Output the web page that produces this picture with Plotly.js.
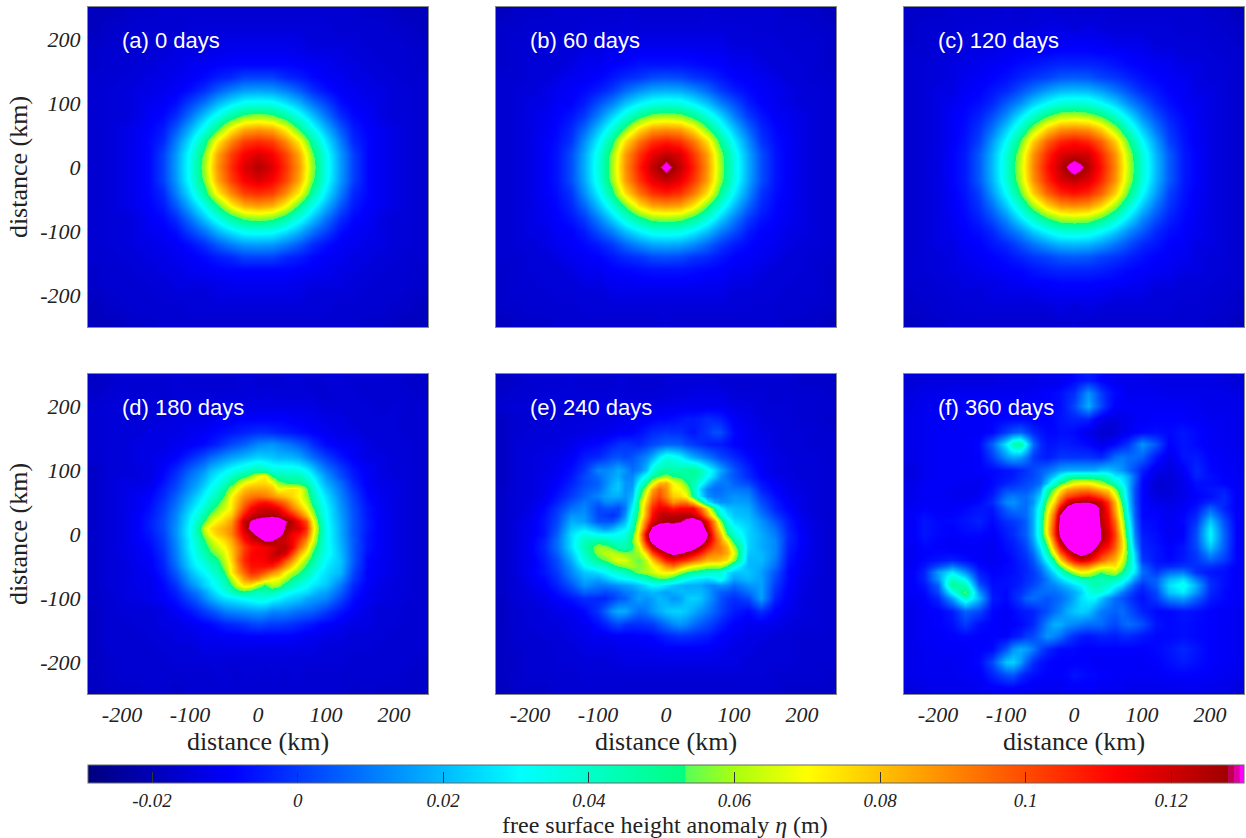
<!DOCTYPE html>
<html><head><meta charset="utf-8">
<script src="https://cdn.plot.ly/plotly-3.0.1.min.js"></script>
<style>html,body{margin:0;padding:0;background:#fff}#chart{width:1246px;height:838px}</style>
</head><body><div id="chart"></div>
<script>
// Grid positions in km. Rows below run from top to bottom; values in millimetres.
const gridCoarse = [-240,-220,-200,-180,-160,-140,-120,-100,-80,-60,-40,-20,0,20,40,60,80,100,120,140,160,180,200,220,240];
const gridFine = [-240,-220,-200,-180,-160,-140,-120,-100,-90,-80,-70,-60,-50,-40,-30,-20,-10,0,10,20,30,40,50,60,70,80,90,100,120,140,160,180,200,220,240];
const panelLabels = ["(a) 0 days","(b) 60 days","(c) 120 days","(d) 180 days","(e) 240 days","(f) 360 days"];
const axisTicks = [-200,-100,0,100,200];
const axisTickText = ["-200","-100","0","100","200"];
const barTicks = [-0.02,0,0.02,0.04,0.06,0.08,0.1,0.12];
const barTickText = ["-0.02","0","0.02","0.04","0.06","0.08","0.1","0.12"];

const panelA = [
[-19,-19,-18,-17,-17,-16,-16,-16,-16,-16,-16,-16,-16,-16,-16,-16,-16,-16,-16,-16,-17,-17,-18,-19,-19],
[-19,-17,-17,-16,-16,-16,-16,-15,-15,-15,-15,-15,-15,-15,-15,-15,-15,-15,-16,-16,-16,-16,-17,-17,-19],
[-18,-17,-16,-16,-16,-15,-15,-15,-15,-13,-13,-13,-13,-13,-13,-13,-15,-15,-15,-15,-16,-16,-16,-17,-18],
[-17,-16,-16,-16,-15,-15,-13,-13,-13,-12,-11,-11,-11,-11,-11,-12,-13,-13,-13,-15,-15,-16,-16,-16,-17],
[-17,-16,-16,-15,-15,-13,-13,-11,-10,-9,-8,-8,-8,-8,-8,-9,-10,-11,-13,-13,-15,-15,-16,-16,-17],
[-16,-16,-15,-15,-13,-13,-11,-10,-8,-5,-3,1,1,1,-3,-5,-8,-10,-11,-13,-13,-15,-15,-16,-16],
[-16,-15,-15,-13,-13,-11,-10,-7,-2,5,11,15,16,15,11,5,-2,-7,-10,-11,-13,-13,-15,-15,-16],
[-16,-15,-15,-13,-11,-10,-7,1,9,19,27,33,34,33,27,19,9,1,-7,-10,-11,-13,-15,-15,-16],
[-16,-15,-15,-13,-10,-8,-2,9,22,34,47,56,59,56,47,34,22,9,-2,-8,-10,-13,-15,-15,-16],
[-16,-15,-13,-11,-9,-5,5,19,34,52,72,84,87,84,72,52,34,19,5,-5,-9,-11,-13,-15,-16],
[-16,-15,-13,-11,-8,-3,11,27,47,72,90,102,105,102,90,72,47,27,11,-3,-8,-11,-13,-15,-16],
[-16,-15,-13,-11,-8,1,15,33,56,84,102,113,118,113,102,84,56,33,15,1,-8,-11,-13,-15,-16],
[-16,-15,-13,-11,-8,1,16,34,59,87,105,118,125,118,105,87,59,34,16,1,-8,-11,-13,-15,-16],
[-16,-15,-13,-11,-8,1,15,33,56,84,102,113,118,113,102,84,56,33,15,1,-8,-11,-13,-15,-16],
[-16,-15,-13,-11,-8,-3,11,27,47,72,90,102,105,102,90,72,47,27,11,-3,-8,-11,-13,-15,-16],
[-16,-15,-13,-11,-9,-5,5,19,34,52,72,84,87,84,72,52,34,19,5,-5,-9,-11,-13,-15,-16],
[-16,-15,-15,-13,-10,-8,-2,9,22,34,47,56,59,56,47,34,22,9,-2,-8,-10,-13,-15,-15,-16],
[-16,-15,-15,-13,-11,-10,-7,1,9,19,27,33,34,33,27,19,9,1,-7,-10,-11,-13,-15,-15,-16],
[-16,-15,-15,-13,-13,-11,-10,-7,-2,5,11,15,16,15,11,5,-2,-7,-10,-11,-13,-13,-15,-15,-16],
[-16,-16,-15,-15,-13,-13,-11,-10,-8,-5,-3,1,1,1,-3,-5,-8,-10,-11,-13,-13,-15,-15,-16,-16],
[-17,-16,-16,-15,-15,-13,-13,-11,-10,-9,-8,-8,-8,-8,-8,-9,-10,-11,-13,-13,-15,-15,-16,-16,-17],
[-17,-16,-16,-16,-15,-15,-13,-13,-13,-12,-11,-11,-11,-11,-11,-12,-13,-13,-13,-15,-15,-16,-16,-16,-17],
[-18,-17,-16,-16,-16,-15,-15,-15,-15,-13,-13,-13,-13,-13,-13,-13,-15,-15,-15,-15,-16,-16,-16,-17,-18],
[-19,-17,-17,-16,-16,-16,-16,-15,-15,-15,-15,-15,-15,-15,-15,-15,-15,-15,-16,-16,-16,-16,-17,-17,-19],
[-19,-19,-18,-17,-17,-16,-16,-16,-16,-16,-16,-16,-16,-16,-16,-16,-16,-16,-16,-16,-17,-17,-18,-19,-19]
];
const panelB = [
[-19,-17,-17,-17,-16,-16,-16,-16,-16,-15,-16,-16,-16,-16,-16,-15,-16,-16,-16,-16,-16,-17,-17,-17,-19],
[-17,-17,-16,-16,-16,-16,-15,-15,-15,-15,-15,-15,-15,-15,-15,-15,-15,-15,-15,-16,-16,-16,-16,-17,-17],
[-17,-16,-16,-16,-15,-15,-15,-15,-13,-13,-13,-13,-13,-13,-13,-13,-13,-15,-15,-15,-15,-16,-16,-16,-17],
[-17,-16,-16,-15,-15,-15,-13,-13,-11,-11,-10,-10,-10,-10,-10,-11,-11,-13,-13,-15,-15,-15,-16,-16,-17],
[-17,-16,-15,-15,-15,-13,-11,-11,-9,-8,-6,-6,-6,-6,-7,-8,-9,-11,-11,-13,-15,-15,-15,-16,-17],
[-16,-16,-15,-15,-13,-11,-10,-9,-6,-3,-1,2,3,2,-1,-3,-6,-9,-10,-11,-13,-15,-15,-16,-16],
[-16,-15,-15,-13,-11,-10,-8,-5,0,7,13,17,18,17,13,7,0,-5,-8,-10,-11,-13,-15,-15,-16],
[-16,-15,-13,-13,-10,-9,-5,3,11,21,29,34,36,35,29,21,11,3,-5,-9,-11,-13,-15,-15,-16],
[-16,-15,-13,-11,-9,-6,0,11,24,37,50,58,60,58,50,37,25,11,0,-6,-10,-11,-13,-15,-16],
[-16,-15,-13,-11,-8,-3,7,21,37,56,75,86,88,86,75,56,37,21,7,-3,-8,-11,-13,-15,-16],
[-16,-15,-13,-10,-7,-1,13,29,50,75,93,104,108,104,93,75,50,29,13,-1,-7,-10,-13,-15,-16],
[-16,-15,-13,-10,-6,3,17,35,58,86,104,116,122,118,104,86,58,35,17,3,-6,-10,-13,-15,-16],
[-16,-15,-13,-10,-6,3,18,36,60,88,108,122,133,122,108,88,60,36,18,3,-6,-10,-13,-15,-16],
[-16,-15,-13,-10,-6,3,17,35,58,86,104,116,122,116,104,86,58,35,17,3,-6,-10,-13,-15,-16],
[-16,-15,-13,-10,-7,-1,13,29,50,75,93,104,108,104,93,75,50,29,13,-1,-7,-10,-13,-15,-16],
[-16,-15,-13,-11,-8,-3,7,21,37,56,75,86,88,86,75,56,37,21,7,-3,-8,-11,-13,-15,-16],
[-16,-15,-13,-11,-9,-6,0,11,24,37,50,58,60,58,50,37,24,11,0,-6,-9,-11,-13,-15,-16],
[-16,-15,-13,-13,-10,-9,-5,3,11,21,29,35,36,35,29,21,11,3,-5,-9,-10,-13,-13,-15,-16],
[-16,-15,-15,-13,-11,-10,-8,-5,0,7,13,17,18,17,13,7,0,-5,-8,-10,-11,-13,-15,-15,-16],
[-16,-16,-15,-15,-13,-11,-10,-9,-6,-3,-1,2,3,2,-1,-3,-6,-9,-10,-11,-13,-15,-15,-16,-16],
[-17,-16,-15,-15,-15,-13,-11,-11,-9,-8,-7,-6,-6,-6,-7,-8,-9,-11,-11,-13,-15,-15,-15,-16,-17],
[-17,-16,-16,-15,-15,-15,-13,-13,-11,-11,-10,-10,-10,-10,-10,-11,-11,-13,-13,-15,-15,-15,-16,-16,-17],
[-17,-16,-16,-16,-15,-15,-15,-15,-13,-13,-13,-13,-13,-13,-13,-13,-13,-15,-15,-15,-15,-16,-16,-16,-17],
[-17,-17,-16,-16,-16,-16,-15,-15,-15,-15,-15,-15,-15,-15,-15,-15,-15,-15,-15,-16,-16,-16,-16,-17,-17],
[-19,-17,-17,-17,-16,-16,-16,-16,-16,-16,-16,-16,-15,-16,-16,-16,-16,-16,-16,-16,-16,-17,-17,-17,-19]
];
const panelC = [
[-17,-17,-17,-16,-16,-16,-16,-15,-16,-15,-15,-16,-15,-16,-15,-16,-16,-16,-16,-16,-16,-16,-17,-17,-19],
[-17,-16,-16,-16,-15,-15,-15,-15,-15,-15,-13,-13,-15,-13,-15,-15,-15,-15,-15,-15,-16,-16,-16,-17,-17],
[-17,-16,-15,-15,-15,-15,-13,-13,-13,-11,-11,-11,-11,-11,-11,-13,-13,-13,-15,-15,-15,-15,-16,-16,-17],
[-16,-16,-15,-15,-13,-13,-13,-11,-10,-9,-9,-8,-8,-8,-9,-9,-10,-11,-13,-13,-15,-15,-15,-16,-16],
[-16,-15,-15,-13,-13,-11,-10,-9,-7,-6,-4,-3,-3,-3,-4,-6,-8,-9,-10,-11,-13,-13,-15,-15,-16],
[-16,-15,-15,-13,-11,-10,-9,-7,-4,-1,1,4,5,4,1,-1,-4,-7,-9,-10,-11,-13,-15,-15,-16],
[-16,-15,-13,-13,-10,-9,-6,-3,3,9,15,19,20,19,15,9,3,-3,-6,-9,-10,-13,-13,-15,-16],
[-16,-15,-13,-11,-9,-7,-3,5,13,23,31,37,38,37,31,23,13,5,-3,-7,-10,-11,-13,-15,-16],
[-16,-15,-13,-10,-8,-4,3,13,27,40,53,61,63,60,53,40,27,13,3,-4,-8,-11,-13,-15,-16],
[-16,-15,-13,-10,-7,-1,9,23,40,60,78,88,90,88,78,60,40,23,9,-1,-7,-10,-13,-15,-16],
[-16,-15,-13,-10,-6,1,15,31,53,78,96,106,110,106,96,78,53,31,15,1,-6,-10,-13,-15,-16],
[-16,-15,-13,-9,-5,5,19,37,61,88,106,118,120,120,106,88,61,37,19,5,-5,-9,-13,-15,-16],
[-16,-15,-13,-9,-5,5,20,38,63,90,110,122,137,124,110,90,63,38,20,5,-5,-9,-13,-15,-16],
[-16,-15,-13,-9,-5,5,19,37,61,88,106,118,122,118,106,88,61,37,19,5,-5,-9,-13,-15,-16],
[-16,-15,-13,-10,-6,1,15,31,53,78,96,106,110,106,96,78,53,31,15,1,-6,-10,-13,-15,-16],
[-16,-15,-13,-10,-7,-1,9,23,40,60,78,88,90,88,78,60,40,23,9,-1,-7,-10,-13,-15,-16],
[-16,-15,-13,-11,-8,-4,3,13,27,40,53,61,63,61,53,40,27,13,3,-4,-8,-11,-13,-15,-16],
[-16,-15,-13,-11,-9,-7,-3,5,13,23,31,37,38,37,31,23,13,5,-3,-7,-9,-11,-13,-15,-16],
[-16,-15,-13,-13,-10,-9,-6,-3,3,9,15,19,20,19,15,9,3,-3,-6,-9,-10,-13,-13,-15,-16],
[-16,-15,-15,-13,-11,-10,-9,-7,-4,-1,1,4,5,4,1,-1,-4,-7,-9,-10,-11,-13,-15,-15,-16],
[-16,-15,-15,-13,-13,-11,-10,-9,-8,-6,-4,-3,-3,-3,-4,-6,-8,-9,-10,-11,-13,-13,-15,-15,-16],
[-16,-16,-15,-15,-13,-13,-13,-11,-10,-9,-9,-8,-8,-8,-9,-9,-10,-11,-13,-13,-15,-15,-15,-16,-16],
[-17,-16,-16,-15,-15,-15,-13,-13,-13,-13,-11,-11,-11,-11,-11,-13,-13,-13,-15,-15,-15,-15,-16,-16,-17],
[-17,-17,-16,-16,-15,-15,-15,-15,-15,-15,-15,-13,-15,-13,-15,-15,-15,-15,-15,-15,-16,-16,-16,-17,-17],
[-19,-17,-17,-16,-16,-16,-16,-16,-16,-16,-16,-16,-15,-16,-16,-16,-16,-16,-16,-16,-16,-16,-17,-17,-19]
];
const panelD = [
[-18,-17,-16,-16,-16,-16,-15,-16,-16,-16,-16,-16,-16,-16,-15,-15,-15,-16,-16,-16,-16,-15,-15,-15,-16,-16,-16,-15,-15,-16,-16,-16,-16,-17,-17],
[-17,-16,-15,-16,-15,-16,-15,-15,-15,-15,-15,-15,-15,-15,-15,-15,-14,-15,-14,-14,-15,-15,-15,-15,-15,-15,-16,-16,-15,-15,-16,-16,-16,-16,-17],
[-16,-15,-15,-15,-15,-15,-15,-15,-15,-14,-14,-13,-13,-13,-13,-13,-13,-13,-13,-13,-13,-13,-13,-13,-13,-13,-14,-15,-15,-15,-15,-16,-15,-16,-16],
[-16,-15,-15,-15,-15,-14,-13,-13,-13,-13,-12,-11,-10,-10,-9,-9,-9,-9,-9,-9,-9,-9,-10,-10,-11,-11,-12,-13,-13,-15,-15,-15,-15,-16,-16],
[-16,-15,-15,-15,-13,-13,-13,-11,-11,-10,-9,-8,-7,-6,-5,-4,-3,-2,-2,-3,-4,-5,-6,-7,-8,-9,-10,-11,-13,-13,-15,-15,-15,-16,-16],
[-16,-15,-15,-13,-13,-13,-11,-10,-9,-8,-6,-4,-1,2,4,6,9,12,13,14,12,10,8,5,2,-2,-5,-8,-10,-11,-13,-15,-15,-15,-16],
[-16,-15,-15,-13,-13,-11,-9,-3,0,3,7,10,13,16,18,20,22,24,23,22,20,20,19,17,12,8,4,0,-6,-10,-13,-13,-15,-15,-16],
[-18,-15,-15,-14,-13,-9,-3,6,10,14,20,24,28,32,36,38,42,44,42,36,36,36,36,34,30,24,16,10,1,-6,-10,-13,-15,-15,-16],
[-17,-15,-14,-14,-13,-8,-1,9,13,18,24,29,34,40,46,50,58,68,72,52,46,44,44,44,38,30,22,14,3,-5,-10,-13,-14,-15,-16],
[-17,-15,-13,-13,-12,-6,1,12,16,22,28,34,40,50,60,70,74,76,76,72,58,54,50,50,46,36,26,18,8,-3,-10,-12,-13,-15,-16],
[-17,-15,-13,-12,-11,-4,3,14,19,26,32,38,48,60,72,80,84,84,84,80,70,72,74,72,56,42,30,22,10,-1,-9,-12,-13,-15,-16],
[-17,-15,-13,-11,-9,-3,6,18,24,30,37,44,54,70,80,88,92,94,92,88,84,80,76,70,60,46,34,26,12,1,-8,-11,-13,-15,-16],
[-17,-15,-13,-11,-8,-1,8,21,27,34,42,50,60,72,84,94,102,108,110,106,100,94,84,74,64,50,36,28,14,2,-7,-11,-13,-15,-16],
[-17,-15,-13,-11,-7,0,10,24,31,38,48,56,64,72,88,100,112,118,120,118,114,104,92,82,70,56,40,30,15,3,-6,-10,-13,-15,-16],
[-17,-15,-13,-10,-6,1,12,28,36,46,56,64,72,78,96,110,120,124,125,126,124,116,108,96,82,64,44,31,16,4,-6,-10,-13,-15,-16],
[-17,-15,-13,-10,-5,2,13,30,40,52,64,72,78,86,104,122,130,134,136,138,138,130,124,112,100,74,48,32,17,4,-5,-10,-13,-15,-16],
[-17,-15,-13,-10,-5,2,14,32,44,64,74,80,84,90,106,120,134,140,142,142,140,128,122,118,106,78,52,33,18,4,-5,-10,-13,-15,-16],
[-17,-15,-13,-10,-6,1,14,32,44,58,70,78,82,90,104,115,124,134,144,146,136,124,114,110,100,74,50,34,18,4,-6,-10,-13,-15,-16],
[-17,-15,-13,-10,-7,0,13,30,40,52,62,70,76,84,98,110,118,122,132,130,122,120,114,104,90,70,48,33,19,5,-6,-10,-13,-15,-16],
[-17,-15,-13,-11,-8,-1,12,30,38,48,56,64,70,80,92,102,110,112,114,118,122,124,114,96,80,60,44,34,20,5,-6,-10,-13,-15,-16],
[-17,-15,-13,-11,-9,-2,11,28,36,44,52,58,66,78,92,104,112,114,114,120,124,120,102,84,70,54,42,34,21,5,-7,-10,-13,-15,-16],
[-17,-15,-14,-11,-10,-3,10,26,33,38,46,50,62,76,94,106,112,112,114,118,114,100,88,72,58,48,38,30,22,5,-8,-11,-13,-15,-16],
[-17,-15,-14,-12,-10,-4,8,24,30,34,40,46,58,72,90,102,110,110,110,108,100,88,76,62,52,44,36,28,21,4,-8,-11,-13,-15,-16],
[-17,-15,-14,-12,-11,-5,5,20,26,30,36,42,52,72,86,96,106,104,98,90,84,72,62,54,46,38,30,26,20,2,-9,-11,-13,-15,-16],
[-17,-15,-14,-12,-12,-7,2,16,21,26,30,36,44,60,74,86,92,88,78,70,68,60,50,44,38,32,28,24,15,0,-9,-12,-14,-15,-16],
[-17,-15,-14,-12,-12,-8,-1,12,17,24,28,34,40,52,66,74,72,60,52,62,60,48,42,36,32,28,25,22,10,-3,-10,-12,-14,-15,-16],
[-17,-16,-14,-13,-12,-9,-4,6,10,16,22,28,34,40,48,50,46,42,44,44,38,34,30,28,26,22,18,16,6,-5,-11,-13,-14,-15,-16],
[-17,-16,-14,-13,-12,-10,-6,2,6,12,17,22,26,28,30,32,34,36,36,32,30,26,24,22,18,16,14,12,2,-7,-11,-13,-14,-15,-16],
[-18,-16,-15,-15,-15,-13,-10,-6,-3,0,3,6,10,12,13,14,15,16,15,12,12,12,10,8,7,6,3,0,-6,-10,-13,-15,-15,-16,-16],
[-18,-16,-16,-15,-15,-13,-13,-11,-10,-9,-8,-6,-4,-3,-2,-1,1,2,1,0,0,-1,-2,-3,-5,-6,-8,-9,-11,-13,-13,-15,-15,-16,-16],
[-18,-16,-16,-16,-15,-15,-13,-13,-12,-11,-11,-11,-10,-10,-10,-9,-9,-9,-9,-9,-9,-9,-9,-10,-11,-11,-12,-13,-13,-15,-15,-15,-16,-16,-16],
[-18,-16,-16,-16,-16,-15,-15,-15,-14,-13,-13,-13,-13,-13,-13,-13,-13,-13,-13,-13,-13,-13,-13,-13,-13,-13,-14,-15,-15,-15,-15,-16,-16,-16,-16],
[-18,-17,-16,-16,-16,-16,-15,-15,-15,-15,-15,-15,-15,-15,-15,-15,-15,-15,-15,-15,-15,-15,-15,-15,-15,-15,-15,-15,-15,-16,-16,-16,-16,-16,-17],
[-18,-17,-16,-16,-16,-16,-16,-16,-16,-16,-16,-15,-15,-16,-16,-15,-15,-15,-16,-15,-15,-16,-15,-15,-16,-16,-16,-16,-16,-16,-16,-16,-16,-17,-17],
[-19,-17,-17,-17,-16,-16,-17,-16,-16,-16,-16,-16,-16,-16,-16,-16,-16,-16,-16,-16,-16,-16,-16,-16,-16,-16,-16,-16,-16,-17,-16,-17,-17,-17,-17]
];
const panelE = [
[-18,-17,-16,-16,-16,-15,-16,-16,-16,-16,-15,-15,-16,-16,-16,-16,-16,-15,-15,-15,-15,-15,-15,-15,-15,-16,-16,-16,-16,-16,-16,-16,-17,-17,-17],
[-17,-16,-16,-15,-15,-15,-15,-15,-15,-15,-15,-15,-15,-15,-15,-15,-15,-15,-14,-14,-14,-13,-13,-13,-13,-13,-14,-15,-15,-15,-16,-16,-16,-16,-17],
[-16,-15,-15,-15,-15,-15,-15,-13,-13,-13,-13,-13,-13,-13,-13,-13,-12,-12,-12,-11,-11,-11,-11,-11,-11,-11,-12,-13,-13,-15,-15,-15,-16,-16,-16],
[-18,-16,-16,-15,-15,-14,-14,-14,-13,-13,-12,-12,-11,-11,-10,-9,-8,-8,-7,-6,-5,-5,-4,-2,-3,-4,-7,-10,-12,-14,-15,-15,-16,-16,-17],
[-18,-16,-15,-15,-14,-14,-13,-12,-12,-11,-10,-10,-9,-7,-5,-3,-2,-1,-2,-2,-4,-6,-3,-1,3,3,-3,-8,-11,-13,-14,-15,-15,-16,-16],
[-18,-15,-15,-14,-14,-12,-9,-8,-6,-4,-2,-1,-2,-3,0,2,4,6,6,5,2,0,-2,-4,-5,-5,-7,-9,-11,-12,-14,-15,-15,-16,-16],
[-18,-15,-14,-13,-12,-10,-5,-3,0,3,4,2,4,8,12,18,28,36,34,30,24,18,14,10,6,2,0,-3,-8,-11,-13,-14,-15,-15,-16],
[-18,-15,-14,-13,-11,-7,-1,12,12,14,18,14,8,12,20,36,46,46,46,46,48,50,44,34,26,18,10,4,-4,-10,-13,-14,-15,-15,-16],
[-18,-15,-14,-12,-10,-6,2,8,12,16,18,12,12,22,34,46,54,58,52,50,46,48,42,32,24,14,8,4,-3,-9,-12,-13,-15,-15,-16],
[-18,-15,-14,-12,-9,-4,2,6,12,18,22,14,14,32,48,66,82,84,70,64,54,44,34,22,12,10,10,6,2,-6,-10,-13,-14,-15,-16],
[-17,-15,-14,-12,-8,-2,4,8,14,20,22,14,16,42,62,84,96,88,72,70,62,44,24,12,8,8,10,10,8,-4,-9,-12,-14,-15,-16],
[-17,-15,-14,-11,-6,0,6,12,16,18,18,14,20,48,72,92,100,90,78,76,70,48,28,14,10,10,12,14,12,0,-7,-11,-13,-15,-16],
[-17,-15,-13,-10,-4,4,10,6,12,12,10,12,24,56,78,98,108,100,88,92,92,80,56,30,18,14,14,16,15,3,-5,-10,-13,-15,-16],
[-17,-15,-13,-8,-1,8,12,2,4,4,2,10,30,56,84,106,114,114,108,112,112,112,96,74,48,30,22,20,18,6,-4,-9,-13,-15,-16],
[-17,-15,-12,-7,1,14,14,2,0,-2,2,14,36,58,86,110,122,124,124,124,124,122,110,88,64,40,28,22,20,10,0,-7,-12,-15,-16],
[-17,-14,-11,-6,2,18,16,4,4,4,10,20,38,66,94,116,124,126,126,127,132,138,132,112,88,60,36,26,22,14,4,-5,-11,-14,-16],
[-17,-14,-11,-6,4,22,26,18,14,18,24,28,42,72,104,132,140,140,136,140,146,146,144,120,94,72,44,32,24,16,8,-4,-11,-14,-16],
[-17,-14,-11,-6,6,26,36,30,30,30,32,36,50,78,118,148,150,150,150,150,150,150,150,130,100,82,52,38,24,18,10,-3,-10,-14,-16],
[-17,-14,-10,-4,8,26,42,46,44,40,38,40,54,76,112,140,150,150,150,150,150,150,146,124,104,88,70,46,24,18,12,-3,-10,-14,-16],
[-17,-14,-10,-3,8,26,44,60,58,52,46,44,52,66,96,118,134,146,150,150,146,136,124,110,98,92,82,60,24,18,12,-4,-10,-14,-16],
[-17,-14,-10,-4,6,22,40,58,62,64,60,56,56,60,76,100,114,126,134,130,124,118,108,96,90,90,84,66,22,20,12,-5,-11,-14,-16],
[-17,-14,-11,-5,3,18,36,50,54,62,68,66,58,54,62,78,94,108,112,108,104,96,90,82,82,80,74,58,20,20,10,-6,-11,-14,-16],
[-17,-14,-11,-6,2,14,30,38,42,48,54,58,60,56,60,68,76,88,94,84,76,70,66,62,60,62,52,34,20,18,8,-7,-12,-14,-16],
[-17,-14,-10,-6,0,12,22,26,30,36,38,42,50,58,60,64,70,72,70,60,54,48,46,42,40,38,28,22,22,16,4,-8,-12,-14,-16],
[-17,-15,-11,-8,-2,8,18,16,20,24,28,30,32,36,42,48,52,52,46,38,32,28,26,24,28,34,24,16,20,16,2,-8,-13,-15,-16],
[-17,-15,-12,-9,-4,4,14,10,10,12,14,16,18,22,26,30,30,26,22,20,18,18,18,14,12,14,12,8,14,16,0,-9,-13,-15,-16],
[-17,-15,-13,-11,-7,-1,6,4,2,4,6,10,12,16,18,20,18,16,18,20,20,20,20,16,10,6,4,2,8,16,-2,-10,-13,-15,-16],
[-18,-15,-14,-12,-9,-6,-2,-3,-3,0,4,6,12,16,14,16,20,18,14,16,22,24,22,16,10,4,0,-2,2,16,-4,-10,-14,-15,-16],
[-18,-16,-15,-14,-12,-11,-8,-1,6,14,18,18,12,8,10,14,18,22,24,24,22,18,14,10,6,2,-2,-5,-8,-2,-9,-12,-14,-15,-16],
[-18,-16,-15,-14,-14,-12,-11,-7,-4,0,2,-1,-2,-2,-1,0,4,8,12,14,12,8,5,2,-1,-4,-7,-9,-11,-11,-12,-14,-15,-15,-16],
[-18,-16,-16,-15,-15,-13,-12,-11,-11,-10,-10,-10,-10,-9,-9,-8,-6,-4,-3,-2,-2,-3,-4,-5,-7,-9,-10,-11,-13,-13,-15,-15,-16,-16,-16],
[-18,-17,-16,-16,-15,-15,-13,-13,-13,-13,-12,-12,-12,-12,-11,-11,-11,-10,-10,-10,-10,-10,-10,-10,-11,-11,-12,-13,-13,-15,-15,-15,-16,-16,-16],
[-18,-17,-16,-16,-15,-15,-15,-15,-15,-14,-14,-13,-13,-13,-13,-13,-13,-13,-13,-13,-13,-13,-13,-13,-13,-13,-13,-13,-15,-15,-15,-15,-16,-16,-16],
[-18,-17,-16,-16,-16,-16,-15,-15,-15,-15,-15,-15,-15,-15,-15,-15,-15,-15,-15,-15,-15,-15,-15,-15,-15,-15,-15,-15,-15,-15,-16,-16,-16,-16,-17],
[-19,-17,-17,-17,-16,-16,-16,-16,-16,-16,-16,-16,-16,-16,-16,-16,-16,-16,-16,-16,-16,-16,-16,-16,-16,-16,-16,-16,-16,-16,-16,-17,-17,-17,-17]
];
const panelF = [
[-15,-14,-14,-14,-14,-14,-14,-13,-13,-13,-13,-13,-12,-12,-12,-11,-10,-8,-6,-5,-6,-9,-10,-11,-12,-12,-12,-12,-13,-13,-13,-13,-13,-14,-15],
[-14,-12,-12,-11,-11,-11,-11,-11,-11,-11,-11,-10,-10,-9,-8,-7,-4,-2,6,14,8,0,-5,-8,-9,-11,-11,-11,-11,-12,-12,-12,-12,-12,-13],
[-13,-11,-11,-10,-10,-10,-10,-10,-10,-10,-10,-9,-9,-9,-8,-7,-3,2,10,18,10,2,-5,-9,-10,-10,-10,-10,-10,-10,-10,-11,-12,-12,-12],
[-12,-11,-10,-10,-10,-10,-9,-8,-8,-8,-8,-9,-9,-9,-8,-6,-5,-4,-4,-4,-8,-12,-13,-14,-12,-12,-10,-10,-9,-9,-9,-10,-11,-11,-12],
[-12,-11,-10,-10,-10,-10,-8,0,4,6,2,-3,-6,-8,-8,-7,-7,-8,-10,-12,-14,-16,-16,-15,-12,-11,-9,-8,-7,-8,-6,-8,-10,-11,-12],
[-12,-11,-10,-10,-10,-8,6,28,44,48,30,8,-2,-6,-6,-5,-5,-6,-7,-8,-10,-12,-10,-8,-4,-1,6,14,4,-9,-6,-8,-10,-11,-12],
[-12,-11,-10,-10,-10,-9,0,14,18,16,10,0,-3,-5,-3,-1,-1,-1,-1,-1,-2,-3,2,8,10,8,8,6,-6,-12,-6,-5,-9,-10,-11],
[-14,-11,-10,-10,-10,-9,-8,-6,-5,-3,-1,2,5,8,12,16,18,18,18,18,18,22,22,18,14,8,2,-4,-12,-14,-10,-3,-8,-10,-11],
[-14,-11,-10,-10,-10,-10,-8,-6,-5,-2,0,2,6,14,22,32,42,46,46,46,44,44,38,28,26,18,6,-6,-13,-15,-11,-4,-7,-9,-10],
[-12,-10,-10,-10,-11,-11,-8,-4,-2,0,2,4,8,22,40,50,60,68,70,70,66,60,52,42,30,20,4,-8,-16,-15,-12,-7,-7,-9,-11],
[-12,-10,-10,-11,-12,-11,-7,2,2,4,4,8,16,44,56,72,84,88,90,90,86,80,76,58,40,20,2,-8,-15,-15,-12,-8,-6,-5,-10],
[-12,-10,-10,-11,-12,-10,-5,8,10,8,8,14,24,50,68,86,100,104,108,110,106,100,90,70,44,22,2,-8,-14,-14,-12,-9,-7,-3,-10],
[-11,-10,-10,-10,-10,-8,-3,12,14,10,8,14,30,58,76,98,118,126,128,128,124,118,104,82,50,24,2,-8,-12,-13,-11,-8,-3,-3,-10],
[-11,-9,-10,-10,-8,-6,-6,6,10,8,8,18,36,64,86,114,134,145,150,146,140,124,108,84,56,26,4,-8,-10,-12,-10,-6,6,-4,-10],
[-10,-7,-9,-9,-7,-5,-7,2,4,6,8,18,38,70,96,130,150,155,155,155,145,122,112,88,60,30,4,-8,-9,-11,-9,-3,14,0,-10],
[-10,-6,-8,-8,-6,-4,-8,-2,0,2,6,18,40,72,100,135,155,155,155,155,150,124,114,94,64,34,6,-7,-8,-11,-8,-1,22,3,-10],
[-10,-6,-8,-9,-7,-6,-9,-4,-2,2,6,18,40,74,104,135,155,155,155,155,150,126,116,98,68,38,8,-6,-8,-11,-9,2,28,5,-10],
[-10,-6,-8,-9,-8,-8,-10,-5,-2,2,6,18,40,72,104,134,150,155,155,155,150,128,118,102,72,40,10,-5,-7,-11,-9,3,30,6,-10],
[-10,-7,-9,-10,-9,-9,-11,-6,-4,0,4,16,36,62,96,124,146,155,155,155,150,126,116,100,76,44,12,-4,-7,-10,-8,3,28,6,-10],
[-11,-8,-9,-10,-10,-10,-11,-7,-5,-2,2,12,28,52,84,110,130,150,155,150,132,116,110,96,76,48,16,-3,-6,-9,-6,2,22,5,-10],
[-11,-9,-8,-8,-9,-10,-11,-8,-6,-3,0,8,22,42,70,96,114,128,136,130,120,108,100,90,72,50,22,-2,-6,-9,-6,0,14,3,-10],
[-11,-8,-6,-4,-7,-10,-11,-9,-7,-4,-2,4,16,32,50,76,96,110,118,114,106,96,88,82,66,48,24,0,-6,-8,-5,-1,6,0,-9],
[-11,-6,2,10,2,-8,-10,-8,-7,-5,-3,2,10,22,38,54,72,86,92,90,82,74,72,74,60,44,28,6,-4,-3,-1,-2,-2,-5,-10],
[-10,-4,16,28,14,-5,-9,-8,-7,-5,-3,0,6,16,26,38,50,62,70,68,60,54,58,62,50,38,26,8,0,8,10,-2,-6,-7,-10],
[-10,-4,14,42,30,-1,-8,-7,-6,-5,-2,0,4,10,18,24,32,38,44,46,46,42,46,44,36,28,14,4,6,20,26,10,-3,-7,-10],
[-10,-6,6,50,44,4,-7,-7,-6,-4,-1,2,6,10,12,16,20,26,30,40,44,44,38,32,26,14,4,-2,6,26,34,18,-2,-7,-10],
[-10,-8,2,32,56,14,-6,-8,-4,-2,2,6,8,8,8,10,14,18,24,34,38,36,30,20,10,4,-2,-5,2,22,28,14,-3,-8,-10],
[-11,-9,-3,16,40,20,-5,-8,-4,0,6,8,6,4,6,8,12,18,26,30,30,22,14,8,4,0,-4,-7,0,12,16,6,-5,-8,-10],
[-12,-10,-9,-5,6,2,-8,-10,-8,-6,-5,-4,0,3,8,12,18,22,24,22,16,10,8,6,8,4,0,-4,-8,-8,-6,-7,-9,-10,-11],
[-12,-10,-9,-7,0,-7,-9,-10,-9,-8,-6,-3,4,12,18,18,14,12,10,8,8,8,4,2,6,8,6,3,-6,-8,-7,-8,-9,-10,-11],
[-12,-10,-10,-9,-8,-9,-9,-9,-6,-4,0,2,8,14,12,8,2,-2,-5,-6,-5,-4,-4,-5,-3,-3,-4,-6,-8,-8,-7,-8,-9,-10,-11],
[-12,-11,-10,-10,-10,-9,-8,4,14,18,16,10,2,-3,-6,-8,-8,-8,-9,-9,-9,-9,-9,-9,-9,-9,-9,-9,-8,-6,-3,-6,-9,-10,-11],
[-12,-11,-11,-11,-10,-8,2,22,24,16,6,-2,-6,-8,-9,-9,-9,-9,-9,-9,-10,-10,-10,-10,-10,-10,-10,-10,-9,-7,-5,-7,-9,-10,-11],
[-12,-11,-11,-11,-10,-10,-4,3,4,-2,-5,-7,-8,-9,-9,-9,-8,-6,-7,-8,-8,-9,-9,-10,-10,-10,-10,-10,-10,-9,-9,-9,-10,-11,-12],
[-14,-13,-12,-12,-12,-11,-10,-9,-9,-10,-10,-11,-11,-11,-11,-11,-10,-10,-10,-10,-10,-11,-11,-11,-11,-12,-12,-12,-12,-12,-11,-11,-12,-12,-14]
];
const panels = [panelA,panelB,panelC,panelD,panelE,panelF];
const panelGrids = [gridCoarse,gridCoarse,gridCoarse,gridFine,gridFine,gridFine];

// Colour scale: position along the bar, colour
const barMin = -0.0288, barMax = 0.13;
const scaleStops = [
 [0,"#000080"],[0.1255,"#0000ff"],[0.3741,"#00ffff"],[0.5162,"#00ff80"],[0.5172,"#58ff58"],
 [0.559,"#a8ff10"],[0.6216,"#ffff00"],[0.7548,"#ff8000"],[0.889,"#ff0000"],[0.986,"#a00000"],
 [0.9862,"#c00050"],[0.991,"#c00050"],[0.9915,"#e000a0"],[0.996,"#e000a0"],[0.9965,"#ff00ff"],[1,"#ff00ff"]
];

const W = 1246, H = 838;
const left = [88,496,904], right = [428,836,1244];
const top_ = [7,374], bottom = [327,694];
const serif = "Liberation Serif";
const traces = [], annotations = [];
const layout = {
  width:W, height:H, paper_bgcolor:"#fff", plot_bgcolor:"#fff", showlegend:false,
  margin:{l:0,r:0,t:0,b:0,autoexpand:false},
  font:{family:serif,color:"#222"},
  coloraxis:{cmin:barMin,cmax:barMax,colorscale:scaleStops,
    colorbar:{orientation:"h",x:88/W,xanchor:"left",xref:"paper",len:1156/W,lenmode:"fraction",
      y:1-765/H,yanchor:"top",yref:"paper",thickness:18,thicknessmode:"pixels",xpad:0,ypad:0,
      outlinecolor:"#666",outlinewidth:1,ticks:"inside",ticklen:11,tickcolor:"#333",tickwidth:1,
      tickmode:"array",tickvals:barTicks,ticktext:barTickText,
      tickfont:{family:serif,size:19,style:"italic",color:"#222"}}}
};
panels.forEach((rows,k)=>{
  const col = k%3, row = Math.floor(k/3), id = k===0?"":String(k+1);
  traces.push({type:"heatmap",x:panelGrids[k],y:panelGrids[k],z:rows.slice().reverse().map(r=>r.map(v=>v/1000)),
    coloraxis:"coloraxis",zsmooth:"best",xaxis:"x"+id,yaxis:"y"+id,hoverinfo:"skip"});
  layout["xaxis"+id] = {domain:[left[col]/W,right[col]/W],range:[-250,250],anchor:"y"+id,
    showgrid:false,zeroline:false,showline:true,linecolor:"#888",linewidth:1,mirror:true,
    tickmode:"array",tickvals:axisTicks,ticktext:axisTickText,ticks:row===1?"outside":"",ticklen:1,tickcolor:"rgba(0,0,0,0)",
    showticklabels:row===1,tickfont:{family:serif,size:22,style:"italic",color:"#222"},
    title:row===1?{text:"distance (km)",standoff:0,font:{family:serif,size:26,color:"#222"}}:undefined};
  layout["yaxis"+id] = {domain:[1-bottom[row]/H,1-top_[row]/H],range:[-250,250],anchor:"x"+id,
    showgrid:false,zeroline:false,showline:true,linecolor:"#888",linewidth:1,mirror:true,
    tickmode:"array",tickvals:axisTicks,ticktext:axisTickText,ticks:col===0?"outside":"",ticklen:2,tickcolor:"rgba(0,0,0,0)",
    showticklabels:col===0,tickfont:{family:serif,size:22,style:"italic",color:"#222"},
    title:col===0?{text:"distance (km)",standoff:5,font:{family:serif,size:26,color:"#222"}}:undefined};
  annotations.push({xref:"x"+id,yref:"y"+id,x:-200,y:198,xanchor:"left",yanchor:"middle",showarrow:false,
    xshift:-2,text:panelLabels[k],font:{family:"Liberation Sans",size:22,color:"#fff"}});
});
annotations.push({xref:"paper",yref:"paper",x:665/W,y:1-825/H,xanchor:"center",yanchor:"middle",showarrow:false,
  text:"free surface height anomaly <i>η</i> (m)",font:{family:serif,size:24,color:"#222"}});
layout.annotations = annotations;
Plotly.newPlot("chart",traces,layout,{displayModeBar:false,responsive:false});
</script></body></html>
